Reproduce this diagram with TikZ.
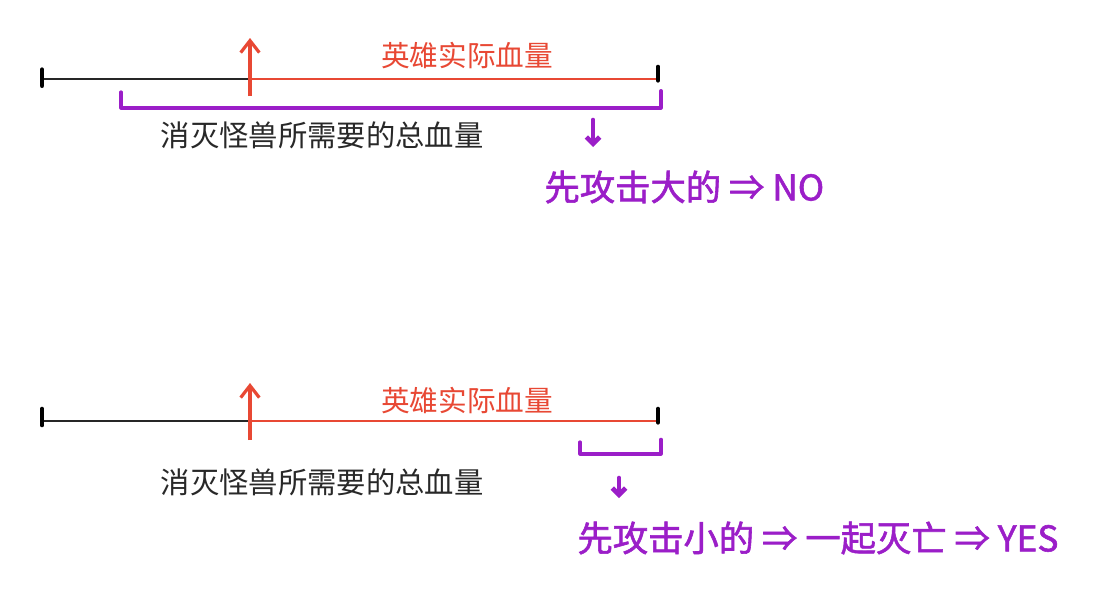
\documentclass[tikz,border=0pt]{standalone}
\usepackage{fontspec}
\newfontfamily\cjk{Noto Sans CJK SC}
\newfontfamily\cjkpen[FakeBold=1.6]{Noto Sans CJK SC}
\usetikzlibrary{arrows.meta}

\definecolor{heroRed}{RGB}{232,72,52}
\definecolor{penPurple}{RGB}{155,30,200}
\definecolor{textGrey}{RGB}{40,40,40}

\tikzset{every picture/.style={line width=0.75pt}}
\tikzset{
	baseline/.style={line width=1.5pt, draw=black!85},
	heroline/.style={line width=1.5pt, draw=heroRed},
	endtick/.style={line width=3.5pt, line cap=round, draw=black},
	upmark/.style={line width=2.4pt, draw=heroRed, -{Straight Barb[length=9pt,width=14pt,line width=2.4pt]}},
	bracket/.style={line width=2.4pt, line cap=round, line join=round, draw=penPurple},
	downmark/.style={line width=3.5pt, line cap=round, draw=penPurple, -{Straight Barb[length=5pt,width=10pt,line width=3.5pt]}},
	herolabel/.style={text=heroRed, font=\cjk\fontsize{21.5}{24}\selectfont, inner sep=0pt},
	totallabel/.style={text=textGrey, font=\cjk\fontsize{22}{24}\selectfont, inner sep=0pt},
	penlabel/.style={text=penPurple, font=\cjkpen\fontsize{26.5}{28}\selectfont, inner sep=0pt, anchor=west},
}

\begin{document}
\begin{tikzpicture}[x=0.75pt,y=0.75pt,yscale=-1,xscale=1]
	\useasboundingbox[fill=white] (0,0) rectangle (1117,590);

	%Top case: attack the big one first
	\coordinate (tL) at (42,79);
	\coordinate (tM) at (250,79);
	\coordinate (tR) at (658,79);
	\coordinate (tUpFoot) at (250,96);
	\coordinate (tUpHead) at (250,38);
	\coordinate (tBrL) at (121,108);
	\coordinate (tBrR) at (661,108);
	\coordinate (tDnTop) at (593,120);
	\coordinate (tDnBot) at (593,147);
	%Straight Lines
	\draw [baseline] (tL) -- (tM) ;
	\draw [heroline] (tM) -- (tR) ;
	\draw [endtick] ([yshift=-7]tL) -- ([yshift=5]tL) ;
	\draw [endtick] ([yshift=-9]tR) -- ([yshift=1]tR) ;
	\draw [upmark] (tUpFoot) -- (tUpHead) ;
	%Bracket
	\draw [bracket] ([yshift=-12]tBrL) -- (tBrL) -- (tBrR) -- ([yshift=-13]tBrR) ;
	\draw [downmark] (tDnTop) -- (tDnBot) ;
	% Text Node
	\node [herolabel] (tHero) at (467,56) {英雄实际血量};
	% Text Node
	\node [totallabel] (tTotal) at (322,135) {消灭怪兽所需要的总血量};
	% Text Node
	\node [penlabel] (tVerdict) at (544,187) {先攻击大的 ⇒ NO};

	%Bottom case: attack the small one first
	\coordinate (bL) at (42,421);
	\coordinate (bM) at (250,421);
	\coordinate (bR) at (658,421);
	\coordinate (bUpFoot) at (250,440);
	\coordinate (bUpHead) at (250,383);
	\coordinate (bBrL) at (580,454);
	\coordinate (bBrR) at (661,454);
	\coordinate (bDnTop) at (619,478);
	\coordinate (bDnBot) at (619,498);
	%Straight Lines
	\draw [baseline] (bL) -- (bM) ;
	\draw [heroline] (bM) -- (bR) ;
	\draw [endtick] ([yshift=-9]bL) -- ([yshift=3]bL) ;
	\draw [endtick] ([yshift=-9]bR) -- ([yshift=1]bR) ;
	\draw [upmark] (bUpFoot) -- (bUpHead) ;
	%Bracket
	\draw [bracket] ([yshift=-9]bBrL) -- (bBrL) -- (bBrR) -- ([yshift=-11]bBrR) ;
	\draw [downmark] (bDnTop) -- (bDnBot) ;
	% Text Node
	\node [herolabel] (bHero) at (467,401) {英雄实际血量};
	% Text Node
	\node [totallabel] (bTotal) at (322,482) {消灭怪兽所需要的总血量};
	% Text Node
	\node [penlabel] (bVerdict) at (577,538) {先攻击小的 ⇒ 一起灭亡 ⇒ YES};

\end{tikzpicture}
\end{document}
